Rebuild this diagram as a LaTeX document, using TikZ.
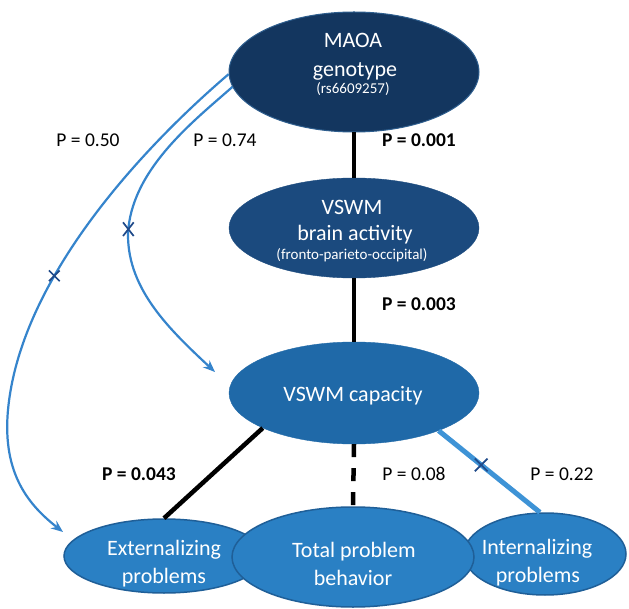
\documentclass[tikz,border=0pt]{standalone}
\usepackage{fontspec}
\setmainfont{Carlito}
\usetikzlibrary{shapes.geometric,shapes.misc,arrows.meta}
\definecolor{cMaoa}{HTML}{13365F}
\definecolor{cMaoaLine}{HTML}{2E5E8E}
\definecolor{cBrain}{HTML}{1B4A7E}
\definecolor{cCap}{HTML}{1F69A8}
\definecolor{cBot}{HTML}{2A80C4}
\definecolor{cBotLine}{HTML}{1F5F98}
\definecolor{cArrow}{HTML}{3584CC}
\definecolor{cThick}{HTML}{3E93D6}
\definecolor{cX}{HTML}{1F4A8A}
\begin{document}
\begin{tikzpicture}[x=1pt,y=-1pt,
  oval/.style={ellipse, inner sep=0pt},
  txt/.style={text=white, inner sep=0pt, anchor=base, font=\fontsize{22}{26}\selectfont},
  smalltxt/.style={text=white, inner sep=0pt, anchor=base, font=\fontsize{15}{18}\selectfont},
  plab/.style={inner sep=0pt, anchor=base, font=\fontsize{19.5}{24}\selectfont},
  pbold/.style={inner sep=0pt, anchor=base, font=\fontsize{19.5}{24}\selectfont\bfseries},
  blk/.style={line width=4.5pt, black},
  blu/.style={draw=cArrow, line width=2.2pt, -{Stealth[length=12pt,width=9.5pt]}},
  xmark/.style={cross out, draw=cX, line width=1.7pt, minimum size=9pt, inner sep=0pt}
]
\fill[white] (0,0) rectangle (629,609);
\useasboundingbox (0,0) rectangle (629,609);

% ellipses
\node[oval, fill=cMaoa, draw=cMaoaLine, line width=1pt, minimum width=250pt, minimum height=120pt] (maoa) at (354,72) {};
\node[oval, fill=cBrain, draw=cBrain, minimum width=250pt, minimum height=100pt] (brain) at (354,228) {};
\node[oval, fill=cCap, draw=cCap, minimum width=250pt, minimum height=102pt] (cap) at (354,393) {};
\node[oval, fill=cBot, draw=cBotLine, line width=1.5pt, minimum width=200pt, minimum height=74pt] (ext) at (164,556) {};
\node[oval, fill=cBot, draw=cBotLine, line width=1.5pt, minimum width=162pt, minimum height=82pt] (int) at (545,554) {};
\node[oval, fill=cBot, draw=cBotLine, line width=1.5pt, minimum width=242pt, minimum height=100pt] (tot) at (353,557) {};

% texts
\node[txt] (t1) at (353,48) {MAOA};
\node[txt] (t2) at (355,77) {genotype};
\node[smalltxt] (t3) at (353,94) {(rs6609257)};
\node[txt] (t4) at (352,215) {VSWM};
\node[txt] (t5) at (355,241) {brain activity};
\node[smalltxt] (t6) at (352,260) {(fronto-parieto-occipital)};
\node[txt] (t7) at (353,402) {VSWM capacity};
\node[txt] (t8) at (164,555) {Externalizing};
\node[txt] (t9) at (164,583) {problems};
\node[txt] (t10) at (354,557) {Total problem};
\node[txt] (t11) at (353,585) {behavior};
\node[txt] (t12) at (537,554) {Internalizing};
\node[txt] (t13) at (538,582) {problems};

% black connectors
\draw[blk] (maoa.south) -- (brain.north);
\draw[blk] (brain.south) -- (cap.north);
\draw[blk] (cap.201) -- (ext.north);
\draw[blk, dash pattern=on 13pt off 11pt] (cap.south) -- (tot.north);

% light blue thick connector with cross
\draw[draw=cThick, line width=5pt] (cap.-24) -- (int.97) node[pos=0.42, xmark, minimum size=11pt] (x3) {};

% curved arrows
\coordinate (exttip) at (63,532);
\coordinate (captip) at (215,372);
\draw[blu] (maoa.181) .. controls (140,150) and (20,280) .. (8,410) node[pos=0.65, xmark] (x1) {}
  .. controls (2,475) and (30,506) .. (exttip);
\draw[blu] (maoa.187) .. controls (195,120) and (130,170) .. (128,235) node[pos=0.97, xmark, minimum width=9pt, minimum height=12pt] (x2) {}
  .. controls (128,290) and (170,330) .. (captip);

% P labels
\node[plab] (p1) at (88,147) {P = 0.50};
\node[plab] (p2) at (225,147) {P = 0.74};
\node[pbold] (p3) at (419,147) {P = 0.001};
\node[pbold] (p4) at (419,311) {P = 0.003};
\node[pbold] (p5) at (139,480) {P = 0.043};
\node[plab] (p6) at (414,480) {P = 0.08};
\node[plab] (p7) at (562,480) {P = 0.22};
\end{tikzpicture}
\end{document}
